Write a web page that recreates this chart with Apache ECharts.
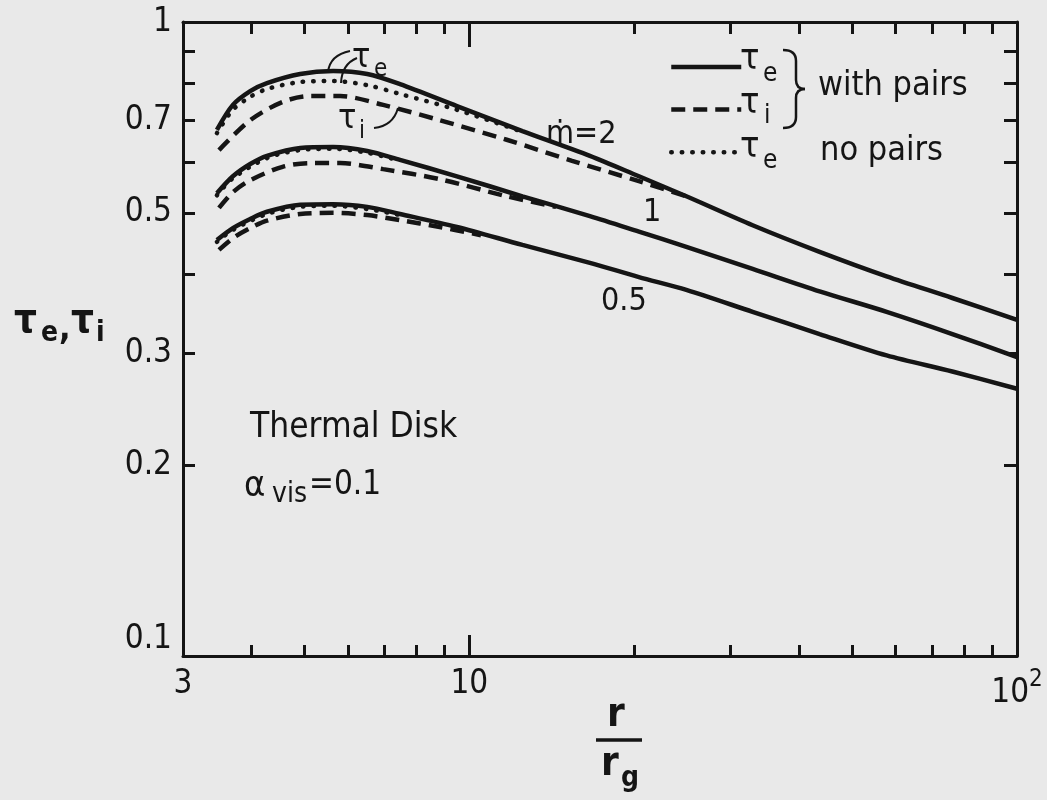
<!DOCTYPE html>
<html>
<head>
<meta charset="utf-8" />
<title>Thermal Disk</title>
<script src="https://cdn.jsdelivr.net/npm/echarts@6/dist/echarts.min.js"></script>
<style>
html, body { margin: 0; padding: 0; background: #e9e9e9; }
#main { width: 1047px; height: 800px; }
</style>
</head>
<body>
<div id="main"></div>
<script type="text/javascript">
// r / r_g for the solid curves (tau_e with pairs)
var rSolid = [3.46, 3.70, 3.98, 4.27, 4.91, 5.64, 6.51, 7.47, 9.49, 12.5, 16.6, 20.4, 24.9, 32.9, 43.6, 57.8, 76.2, 100];
var teSolid2 = [0.676, 0.740, 0.778, 0.801, 0.828, 0.837, 0.828, 0.798, 0.737, 0.673, 0.615, 0.571, 0.531, 0.478, 0.434, 0.397, 0.367, 0.339];
var teSolid1 = [0.537, 0.571, 0.597, 0.615, 0.633, 0.635, 0.626, 0.606, 0.571, 0.531, 0.494, 0.467, 0.442, 0.408, 0.376, 0.349, 0.322, 0.296];
var teSolid05 = [0.453, 0.473, 0.489, 0.502, 0.515, 0.516, 0.511, 0.498, 0.475, 0.445, 0.417, 0.396, 0.378, 0.349, 0.322, 0.298, 0.281, 0.264];

// tau_i with pairs (dashed)
var rDash2 = [3.49, 3.98, 4.56, 5.11, 5.81, 6.96, 8.83, 11.7, 15.4, 20.4, 24.9];
var tiDash2 = [0.628, 0.700, 0.748, 0.764, 0.764, 0.740, 0.700, 0.652, 0.604, 0.561, 0.531];
var rDash1 = [3.49, 3.70, 3.98, 4.56, 5.11, 5.81, 6.96, 8.83, 11.7, 14.4];
var tiDash1 = [0.509, 0.539, 0.563, 0.591, 0.599, 0.599, 0.586, 0.565, 0.531, 0.511];
var rDash05 = [3.49, 3.70, 3.98, 4.27, 4.91, 5.64, 6.51, 7.47, 8.83, 10.5];
var tiDash05 = [0.437, 0.456, 0.473, 0.486, 0.498, 0.500, 0.496, 0.487, 0.475, 0.461];

// tau_e no pairs (dotted)
var rDot2 = [3.46, 3.70, 3.98, 4.27, 4.91, 5.64, 6.51, 7.47, 9.49, 12.5];
var teDot2 = [0.668, 0.727, 0.762, 0.784, 0.804, 0.807, 0.795, 0.770, 0.727, 0.671];
var rDot1 = [3.46, 3.70, 4.27, 4.91, 5.64, 6.51, 7.47];
var teDot1 = [0.533, 0.567, 0.610, 0.628, 0.631, 0.622, 0.604];
var rDot05 = [3.46, 3.70, 4.27, 4.91, 5.64, 6.51, 7.47];
var teDot05 = [0.450, 0.470, 0.498, 0.511, 0.513, 0.507, 0.496];

// ticks and labels
var xMinorTicks = [4, 5, 6, 7, 8, 9, 20, 30, 40, 50, 60, 70, 80, 90];
var xMajorTicks = [10];
var xLabels = [3, 10, 100];
var yTicks = [0.2, 0.3, 0.4, 0.5, 0.6, 0.7, 0.8, 0.9];
var yLabels = [0.1, 0.2, 0.3, 0.5, 0.7, 1];

var INK = '#151515';
var FONT = '"DejaVu Sans Condensed", "DejaVu Sans", sans-serif';

function pairs(xs, ys) {
    return xs.map(function (x, i) { return [x, ys[i]]; });
}

function T(x, y, text, size, weight) {
    return {
        type: 'text', x: x, y: y, silent: true,
        style: {
            text: text, fill: INK,
            font: (weight || 'normal') + ' ' + size + 'px ' + FONT,
            textAlign: 'left', textVerticalAlign: 'middle'
        }
    };
}

function Q(x1, y1, cx, cy, x2, y2, w) {
    return {
        type: 'bezierCurve', silent: true,
        shape: { x1: x1, y1: y1, cpx1: cx, cpy1: cy, x2: x2, y2: y2 },
        style: { stroke: INK, lineWidth: w || 2, fill: null }
    };
}

function L(x1, y1, x2, y2, w) {
    return {
        type: 'line', silent: true,
        shape: { x1: x1, y1: y1, x2: x2, y2: y2 },
        style: { stroke: INK, lineWidth: w || 2 }
    };
}

var solidStyle = { color: INK, width: 4.5, type: 'solid' };
var dashStyle = { color: INK, width: 4.5, type: [14, 8] };
var dotStyle = { color: INK, width: 4.5, type: [0.5, 10], cap: 'round' };

function line(name, data, style) {
    return {
        name: name, type: 'line', data: data, symbol: 'none', smooth: 0.3,
        lineStyle: style, itemStyle: { color: INK }, z: style.type === 'solid' ? 3 : 2
    };
}

var NAME_E = 'τe with pairs', NAME_I = 'τi with pairs', NAME_N = 'τe no pairs';

var chart = echarts.init(document.getElementById('main'));

var axisLine = { show: true, lineStyle: { color: INK, width: 3 } };

var option = {
    backgroundColor: '#e9e9e9',
    animation: false,
    grid: { left: 183, right: 30, top: 22, bottom: 144, outerBoundsMode: 'none' },
    legend: {
        orient: 'vertical', left: 664, top: 55,
        itemWidth: 70, itemHeight: 14, itemGap: 30,
        selectedMode: false,
        data: [NAME_E, NAME_I, NAME_N],
        formatter: function () { return ''; },
        textStyle: { fontSize: 10 },
        itemStyle: { opacity: 0 },
        lineStyle: { width: 4.5 }
    },
    xAxis: [
        {
            type: 'log', logBase: 10, min: 3, max: 100, position: 'bottom',
            axisLine: axisLine,
            axisTick: { inside: true, length: 11, lineStyle: { color: INK, width: 3 }, customValues: xMinorTicks },
            axisLabel: {
                customValues: xLabels, margin: 12, color: INK, fontFamily: FONT, fontSize: 33,
                formatter: function (v) {
                    if (v > 50) return '{a|10}{b|2}';
                    return String(Math.round(v));
                },
                rich: {
                    a: { fontFamily: FONT, fontSize: 33, color: INK },
                    b: { fontFamily: FONT, fontSize: 24, color: INK, padding: [0, 0, 26, 0] }
                }
            },
            splitLine: { show: false }
        },
        {
            type: 'log', logBase: 10, min: 3, max: 100, position: 'bottom',
            axisLine: { show: false },
            axisTick: { inside: true, length: 21, lineStyle: { color: INK, width: 3 }, customValues: xMajorTicks },
            axisLabel: { show: false }, splitLine: { show: false }
        },
        {
            type: 'log', logBase: 10, min: 3, max: 100, position: 'top',
            axisLine: axisLine,
            axisTick: { inside: true, length: 12, lineStyle: { color: INK, width: 3 }, customValues: xMinorTicks },
            axisLabel: { show: false }, splitLine: { show: false }
        },
        {
            type: 'log', logBase: 10, min: 3, max: 100, position: 'top',
            axisLine: { show: false },
            axisTick: { inside: true, length: 25, lineStyle: { color: INK, width: 3 }, customValues: xMajorTicks },
            axisLabel: { show: false }, splitLine: { show: false }
        }
    ],
    yAxis: [
        {
            type: 'log', logBase: 10, min: 0.1, max: 1, position: 'left',
            axisLine: axisLine,
            axisTick: { inside: true, length: 12, lineStyle: { color: INK, width: 3 }, customValues: yTicks },
            axisLabel: {
                customValues: yLabels, margin: 11, color: INK, fontFamily: FONT, fontSize: 33,
                formatter: function (v) {
                    if (v < 0.15) return '{lo|0.1}';
                    if (v > 0.95) return '1';
                    return String(Math.round(v * 10) / 10);
                },
                rich: { lo: { fontFamily: FONT, fontSize: 33, color: INK, padding: [0, 0, 34, 0] } }
            },
            splitLine: { show: false }
        },
        {
            type: 'log', logBase: 10, min: 0.1, max: 1, position: 'right',
            axisLine: axisLine,
            axisTick: { inside: true, length: 13, lineStyle: { color: INK, width: 3 }, customValues: yTicks },
            axisLabel: { show: false }, splitLine: { show: false }
        }
    ],
    series: [
        line(NAME_N, pairs(rDot2, teDot2), dotStyle),
        line(NAME_N, pairs(rDot1, teDot1), dotStyle),
        line(NAME_N, pairs(rDot05, teDot05), dotStyle),
        line(NAME_I, pairs(rDash2, tiDash2), dashStyle),
        line(NAME_I, pairs(rDash1, tiDash1), dashStyle),
        line(NAME_I, pairs(rDash05, tiDash05), dashStyle),
        line(NAME_E, pairs(rSolid, teSolid2), solidStyle),
        line(NAME_E, pairs(rSolid, teSolid1), solidStyle),
        line(NAME_E, pairs(rSolid, teSolid05), solidStyle)
    ],
    graphic: [
        // legend labels
        T(740, 60, 'τ', 36), T(763, 74, 'e', 26),
        T(740, 104, 'τ', 36), T(764, 116, 'i', 26),
        T(740, 148, 'τ', 36), T(763, 161, 'e', 26),
        // brace
        Q(783, 50, 796, 50, 796, 61, 2.5), L(796, 61, 796, 80, 2.5),
        Q(796, 80, 796, 89, 805, 89, 2.5), Q(805, 89, 796, 89, 796, 98, 2.5),
        L(796, 98, 796, 117, 2.5), Q(796, 117, 796, 128, 783, 128, 2.5),
        T(818, 86, 'with pairs', 34),
        T(820, 151, 'no pairs', 34),
        // curve annotations
        T(546, 135, 'ṁ=2', 32),
        T(643, 213, '1', 32),
        T(601, 302, '0.5', 32),
        T(352, 58, 'τ', 34), T(374, 70, 'e', 24),
        Q(328, 72, 330, 55, 350, 51),
        Q(341, 83, 342, 64, 357, 58),
        T(338, 119, 'τ', 34), T(359, 132, 'i', 24),
        Q(374, 128, 393, 126, 398, 108),
        T(250, 428, 'Thermal Disk', 35),
        T(244, 487, 'α', 36), T(272, 495, 'vis', 28), T(309, 485, '=0.1', 33),
        // axis names
        T(14, 322, 'τ', 40, 'bold'), T(41, 334, 'e', 28, 'bold'), T(59, 330, ',', 34, 'bold'),
        T(71, 322, 'τ', 40, 'bold'), T(96, 334, 'i', 28, 'bold'),
        T(607, 716, 'r', 40, 'bold'),
        L(596, 740, 642, 740, 3.5),
        T(601, 765, 'r', 40, 'bold'), T(621, 779, 'g', 28, 'bold')
    ]
};

chart.setOption(option);
</script>
</body>
</html>
